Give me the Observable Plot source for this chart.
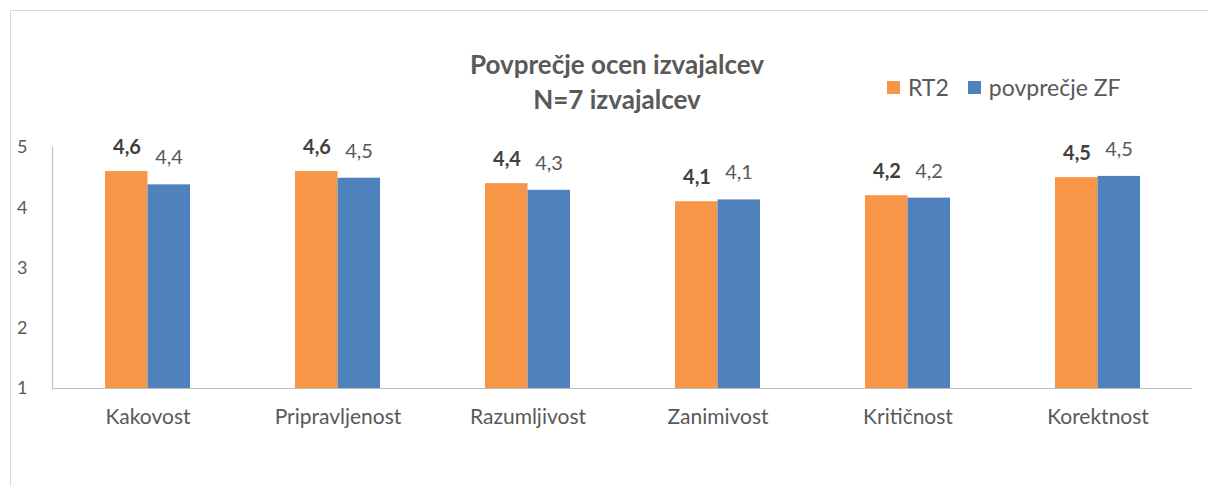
<!DOCTYPE html>
<html>
<head>
<meta charset="utf-8">
<script src="https://cdn.jsdelivr.net/npm/d3@7"></script>
<script src="https://cdn.jsdelivr.net/npm/@observablehq/plot@0.6"></script>
<style>
  html, body { margin: 0; padding: 0; background: #fff; }
  body { width: 1208px; height: 486px; position: relative; overflow: hidden; font-family: Lato, "Open Sans", sans-serif; }
  #frame { position: absolute; left: 10px; top: 10px; right: -5px; bottom: -5px; border-left: 1.5px solid #d9d9d9; border-top: 1.5px solid #d9d9d9; }
  #chart { position: absolute; left: 0; top: 0; }
  #title { position: absolute; left: 367px; width: 500px; top: 47px; text-align: center; font-weight: bold; font-size: 26px; line-height: 35px; color: #595959; }
  #legend { position: absolute; left: 887px; top: 73px; font-size: 23px; color: #595959; display: flex; align-items: center; }
  #legend .sw { display: inline-block; width: 13px; height: 13px; margin-right: 8px; }
  #legend .item { display: flex; align-items: center; margin-right: 19px; }
</style>
</head>
<body>
<div id="frame"></div>
<div id="chart"></div>
<div id="title">Povprečje ocen izvajalcev<br>N=7 izvajalcev</div>
<div id="legend"></div>
<script>
const categories = ["Kakovost", "Pripravljenost", "Razumljivost", "Zanimivost", "Kritičnost", "Korektnost"];
const seriesNames = ["RT2", "povprečje ZF"];
const seriesColors = ["#F79646", "#4F81BD"];
const rt2Values = [4.6, 4.6, 4.4, 4.1, 4.2, 4.5];
const zfValues = [4.38, 4.49, 4.29, 4.13, 4.16, 4.52];
const yTicks = [1, 2, 3, 4, 5];

const rt2 = categories.map((c, i) => ({cat: c, series: seriesNames[0], value: rt2Values[i]}));
const zf = categories.map((c, i) => ({cat: c, series: seriesNames[1], value: zfValues[i]}));
const fmt = v => d3.format(".1f")(v).replace(".", ",");

const chart = Plot.plot({
  width: 1208,
  height: 486,
  marginLeft: 52,
  marginRight: 16,
  marginTop: 147,
  marginBottom: 98,
  style: {fontFamily: "Lato, 'Open Sans', sans-serif", background: "transparent"},
  x: {domain: categories, paddingInner: 0.553, paddingOuter: 0.2765, label: null},
  y: {domain: [1, 5], ticks: yTicks, label: null},
  color: {domain: seriesNames, range: seriesColors},
  marks: [
    Plot.axisY({ticks: yTicks, tickSize: 0, tickPadding: 25, fontSize: 18, fill: "#595959", label: null, tickFormat: d => d}),
    Plot.axisX({tickSize: 0, tickPadding: 21, fontSize: 21, fill: "#595959", label: null}),
    Plot.barY(rt2, {x: "cat", y1: 1, y2: "value", fill: "series", insetRight: 42.5}),
    Plot.barY(zf, {x: "cat", y1: 1, y2: "value", fill: "series", insetLeft: 42.5}),
    Plot.text(rt2, {x: "cat", y: "value", text: d => fmt(d.value), dx: -21, dy: -24, fontSize: 20, fontWeight: "bold", fill: "#404040"}),
    Plot.text(zf, {x: "cat", y: "value", text: d => fmt(d.value), dx: 21, dy: -27, fontSize: 20, fill: "#595959"}),
    Plot.ruleY([1], {stroke: "#bfbfbf", strokeWidth: 1.2}),
    Plot.frame({anchor: "left", stroke: "#bfbfbf", strokeWidth: 1.2})
  ]
});
document.getElementById("chart").appendChild(chart);

const legend = document.getElementById("legend");
seriesNames.forEach((s, i) => {
  const item = document.createElement("span");
  item.className = "item";
  const sw = document.createElement("span");
  sw.className = "sw";
  sw.style.background = seriesColors[i];
  item.appendChild(sw);
  item.appendChild(document.createTextNode(s));
  legend.appendChild(item);
});
</script>
</body>
</html>
